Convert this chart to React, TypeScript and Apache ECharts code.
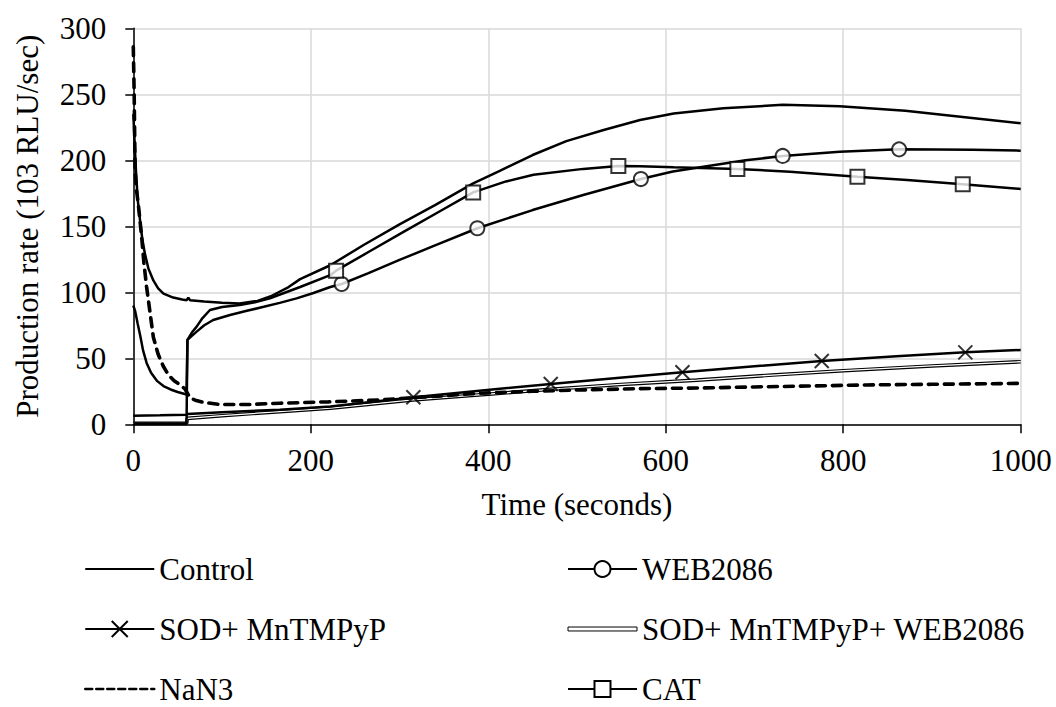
import React, { useEffect, useRef } from "react";
import * as echarts from "echarts";

type P = [number, number];

const xTicks = { min: 0, max: 1000, interval: 200 };
const yTicks = { min: 0, max: 300, interval: 50 };

const xTitle = "Time (seconds)";
const yTitle = "Production rate (103 RLU/sec)";

const names = {
  control: "Control",
  web: "WEB2086",
  sod: "SOD+ MnTMPyP",
  sodWeb: "SOD+ MnTMPyP+ WEB2086",
  nan3: "NaN3",
  cat: "CAT",
};

const control: P[] = [
  [0, 235], [3, 192], [5, 170], [7.5, 155], [10, 141], [13, 129.5], [17, 118], [22.6, 109],
  [28, 103], [34, 99], [45, 96], [55, 94.5], [60, 94], [62, 96], [64, 94], [80, 93], [100, 92],
  [120, 91.5], [140, 93.5], [155, 97], [175, 104], [188, 110], [222, 120.5], [260, 136],
  [300, 151.5], [340, 166], [383, 182.5], [413, 192], [450, 204], [488, 214.5], [530, 223],
  [571, 230.5], [609, 235.5], [665, 239.5], [732, 242], [796, 241], [870, 237.5], [945, 232],
  [1000, 228],
];

const web2086: P[] = [
  [0, 90], [2, 86], [5, 76], [8, 66.5], [11, 56], [15, 46.5], [20, 39], [27, 32.7], [34, 29],
  [42, 26.4], [50, 24.5], [60, 22.6], [61, 64], [66, 67], [71.4, 70.2], [80, 75], [90, 79],
  [109, 82.8], [128, 86], [147, 89], [165, 92], [184, 95.4], [203, 99.5], [222, 104],
  [234.8, 106.3], [265, 114.5], [300, 124.5], [338, 135], [387.7, 148.5], [450, 162.3],
  [507, 173.7], [572, 185.8], [608, 191.5], [646, 195.5], [690, 200], [731.8, 203.3],
  [796, 206.5], [863, 208.3], [946, 208], [1000, 207.3],
];
const web2086Markers: P[] = [
  [234.8, 106.3], [387.7, 148.5], [572, 185.8], [731.8, 203.3], [863, 208.3],
];

const sodMn: P[] = [
  [0, 6.5], [30, 6.8], [60, 7.2], [61, 7.8], [100, 9.2], [165, 11], [222, 13.5], [315.6, 20.5],
  [390, 25.5], [470.4, 30.5], [545, 35], [618.8, 39.4], [700, 44], [775.8, 48], [860, 51.5],
  [937.6, 54.5], [1000, 56.3],
];
const sodMnMarkers: P[] = [
  [315.6, 20.5], [470.4, 30.5], [618.8, 39.4], [775.8, 48], [937.6, 54.5],
];

const sodMnWeb: P[] = [
  [0, 0.7], [60, 0.7], [61, 4.5], [100, 6.5], [165, 9.6], [222, 12.2], [315, 18.5], [400, 22.8],
  [470, 26.5], [545, 30], [635, 33.5], [720, 37.3], [800, 40.6], [900, 44.2], [1000, 47.4],
];

const nan3: P[] = [
  [0, 286], [1, 250], [2, 193], [3.5, 178], [5.6, 167], [9.4, 142], [12, 122], [15, 104],
  [19, 84], [22.6, 66], [28, 53], [33.8, 44], [40, 37], [46, 33], [52.6, 30], [58, 27],
  [64, 20], [71, 18], [80, 16.5], [98, 15], [130, 15], [165, 16], [220, 17], [278, 18.5],
  [335, 21], [390, 23.5], [450, 25], [503, 26], [570, 27], [636, 27.5], [700, 28.3],
  [760, 29], [826, 29.8], [900, 30.3], [1000, 31],
];

const cat: P[] = [
  [0, 0.7], [60, 0.7], [61, 64], [66, 69.5], [71.4, 74], [78, 80.5], [86.4, 86.6], [100, 88.8],
  [120, 90.4], [137, 92.5], [154, 95.5], [188, 104], [222, 113], [228.5, 116.4], [265, 130.5],
  [305, 146], [345, 161.2], [383, 175.7], [420, 184], [451, 189], [507, 193.5], [546.6, 195.7],
  [571, 195.5], [609, 194.7], [680.7, 193.4], [740, 191.4], [816, 187.6], [872, 185],
  [934.7, 181.8], [1000, 178.3],
];
const catMarkers: P[] = [
  [228.5, 116.4], [383, 175.7], [546.6, 195.7], [680.7, 193.4], [816, 187.6], [934.7, 181.8],
];

const FONT = "Liberation Serif";
const BLACK = "#000";
const crossPath = "path://M0,0L10,10M10,0L0,10";

export default function App() {
  const ref = useRef<HTMLDivElement>(null);

  useEffect(() => {
    document.body.style.margin = "0";
    const chart = echarts.init(ref.current!, null, { renderer: "svg" });

    const lineBase = {
      type: "line" as const,
      showSymbol: false,
      animation: false,
      z: 2,
    };
    const noSymStyle = { color: "transparent", borderWidth: 0 };
    const openStyle = { color: "#fff", borderColor: BLACK, borderWidth: 2 };
    const crossStyle = { color: "transparent", borderColor: BLACK, borderWidth: 2 };

    const legendBase = {
      orient: "vertical",
      top: 553.5,
      height: 200,
      padding: 0,
      itemWidth: 69,
      itemHeight: 20,
      itemGap: 29,
      selectedMode: false,
      textStyle: { fontFamily: FONT, fontSize: 31, color: BLACK },
    };

    const option: any = {
      animation: false,
      backgroundColor: "#fff",
      textStyle: { fontFamily: FONT, color: BLACK },
      grid: { left: 133.3, right: 35.3, top: 28.3, bottom: 282.7, containLabel: false },
      xAxis: {
        type: "value",
        min: xTicks.min,
        max: xTicks.max,
        interval: xTicks.interval,
        name: xTitle,
        nameLocation: "middle",
        nameGap: 65,
        nameTextStyle: { fontFamily: FONT, fontSize: 31, color: BLACK },
        axisLine: { lineStyle: { color: BLACK, width: 1.5 } },
        axisTick: { show: true, inside: false, length: 9, lineStyle: { color: BLACK, width: 1.5 } },
        axisLabel: {
          fontFamily: FONT,
          fontSize: 31,
          color: BLACK,
          margin: 21,
          formatter: (v: number) => String(v),
        },
        splitLine: { show: true, lineStyle: { color: "#d9d9d9", width: 1.5 } },
      },
      yAxis: {
        type: "value",
        min: yTicks.min,
        max: yTicks.max,
        interval: yTicks.interval,
        name: yTitle,
        nameLocation: "middle",
        nameGap: 90,
        nameTextStyle: { fontFamily: FONT, fontSize: 31, color: BLACK },
        axisLine: { show: true, lineStyle: { color: BLACK, width: 1.5 } },
        axisTick: { show: true, inside: false, length: 8, lineStyle: { color: BLACK, width: 1.5 } },
        axisLabel: {
          fontFamily: FONT,
          fontSize: 31,
          color: BLACK,
          margin: 27,
          formatter: (v: number) => String(v),
        },
        splitLine: { show: true, lineStyle: { color: "#d9d9d9", width: 1.5 } },
      },
      legend: [
        {
          ...legendBase,
          left: 84,
          data: [
            names.control,
            names.sod,
            { name: names.nan3, lineStyle: { type: [7, 4], width: 2.5 } },
          ],
        },
        {
          ...legendBase,
          left: 567,
          data: [
            names.web,
            {
              name: names.sodWeb,
              icon: "path://M0,0H70V4H0Z",
              itemStyle: { color: "#fff", borderColor: BLACK, borderWidth: 1 },
            },
            names.cat,
          ],
        },
      ],
      series: [
        {
          ...lineBase,
          name: names.sodWeb,
          data: sodMnWeb,
          symbol: "circle",
          itemStyle: noSymStyle,
          lineStyle: { color: BLACK, width: 3.6 },
        },
        {
          ...lineBase,
          name: "sodWebInner",
          data: sodMnWeb,
          symbol: "none",
          itemStyle: noSymStyle,
          lineStyle: { color: "#fff", width: 1.3 },
        },
        {
          ...lineBase,
          name: names.sod,
          data: sodMn,
          symbol: crossPath,
          symbolSize: 14,
          itemStyle: crossStyle,
          lineStyle: { color: BLACK, width: 2.5 },
        },
        {
          ...lineBase,
          name: names.nan3,
          data: nan3,
          symbol: "circle",
          itemStyle: noSymStyle,
          lineStyle: { color: BLACK, width: 3.6, type: [9, 7], cap: "round" },
        },
        {
          ...lineBase,
          name: names.control,
          data: control,
          symbol: "circle",
          itemStyle: noSymStyle,
          lineStyle: { color: BLACK, width: 2.5 },
        },
        {
          ...lineBase,
          name: names.web,
          data: web2086,
          symbol: "circle",
          symbolSize: 14,
          itemStyle: openStyle,
          lineStyle: { color: BLACK, width: 2.5 },
        },
        {
          ...lineBase,
          name: names.cat,
          data: cat,
          symbol: "rect",
          symbolSize: 14,
          itemStyle: openStyle,
          lineStyle: { color: BLACK, width: 2.5 },
        },
        {
          type: "scatter",
          name: "sodMarkers",
          data: sodMnMarkers,
          symbol: crossPath,
          symbolSize: 14,
          itemStyle: crossStyle,
          z: 3,
        },
        {
          type: "scatter",
          name: "webMarkers",
          data: web2086Markers,
          symbol: "circle",
          symbolSize: 14,
          itemStyle: openStyle,
          z: 3,
        },
        {
          type: "scatter",
          name: "catMarkers",
          data: catMarkers,
          symbol: "rect",
          symbolSize: 14,
          itemStyle: openStyle,
          z: 3,
        },
      ],
    };

    chart.setOption(option);
    return () => chart.dispose();
  }, []);

  return <div ref={ref} style={{ width: 1056, height: 707 }} />;
}
